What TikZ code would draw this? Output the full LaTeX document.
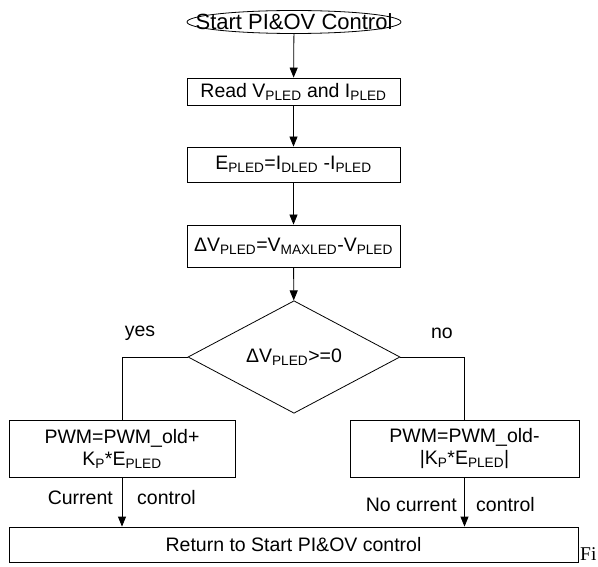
\documentclass[tikz,border=0pt]{standalone}
\usepackage{fontspec}
\setmainfont{Liberation Sans}
\newfontfamily\capfont{Liberation Serif}
\usetikzlibrary{arrows.meta, shapes.geometric}

\newcommand{\sub}[1]{\textsubscript{#1}}

\begin{document}
\begin{tikzpicture}[x=1pt,y=-1pt,
		every node/.style={font=\fontsize{19.5}{22}\selectfont, inner sep=0pt},
		flowbox/.style={draw, line width=0.8pt, align=center},
		flow/.style={line width=0.8pt, -{Triangle[width=8pt,length=10pt]}},
		link/.style={line width=0.8pt}]
		\useasboundingbox (0,0) rectangle (598,567);
		% top part
		\node[draw, line width=0.8pt, ellipse, minimum width=214pt, minimum height=23pt, font=\fontsize{22}{24}\selectfont] (start) at (294,22) {\makebox[0pt]{Start PI\&OV Control}};
		\node[flowbox, minimum width=213pt, minimum height=27pt] (read) at (293.5,91.5) {Read V\sub{PLED} and I\sub{PLED}};
		\node[flowbox, minimum width=213pt, minimum height=35pt] (err) at (293.5,164.5) {E\sub{PLED}=I\sub{DLED} -I\sub{PLED}};
		\node[flowbox, minimum width=213pt, minimum height=42pt] (dv) at (293.5,246) {ΔV\sub{PLED}=V\sub{MAXLED}-V\sub{PLED}};
		\node[draw, line width=0.8pt, diamond, minimum width=212pt, minimum height=87pt] (test) at (294,357) {ΔV\sub{PLED}>=0};
		% branches
		\node[flowbox, minimum width=226pt, minimum height=57pt] (up) at (122,448.5) {PWM=PWM\_old+\\K\sub{P}*E\sub{PLED}};
		\node[flowbox, minimum width=229pt, minimum height=57pt] (down) at (464.5,448.5) {PWM=PWM\_old-\\|K\sub{P}*E\sub{PLED}|};
		\node[flowbox, minimum width=569pt, minimum height=35pt] (ret) at (293.5,544.5) {Return to Start PI\&OV control};
		\node (yes) at (140,333) {yes};
		\node (no) at (442,333) {no};
		\node[anchor=east] (curA) at (113,498) {Current};
		\node[anchor=west] (curB) at (137,498) {control};
		\node[anchor=east] (ncA) at (457,505) {No current};
		\node[anchor=west] (ncB) at (476,505) {control};
		\node[anchor=base west, font=\capfont\fontsize{19.5}{22}\selectfont] (fig) at (580,560) {Fi};
		% connectors
		\draw[flow] (start) -- (read);
		\draw[flow] (read) -- (err);
		\draw[flow] (err) -- (dv);
		\draw[flow] (dv) -- (test);
		\draw[link] (test.west) -| (up.north);
		\draw[link] (test.east) -| (down.north);
		\draw[flow] (up.south) -- (up.south |- ret.north);
		\draw[flow] (down.south) -- (down.south |- ret.north);
	\end{tikzpicture}
\end{document}
